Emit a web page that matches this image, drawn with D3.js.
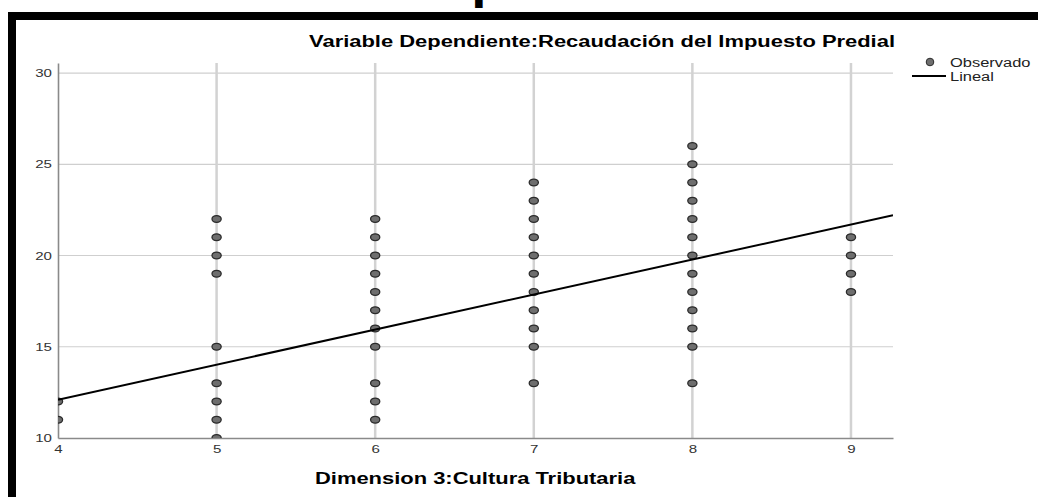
<!DOCTYPE html>
<html>
<head>
<meta charset="utf-8">
<script src="https://cdn.jsdelivr.net/npm/d3@7"></script>
<style>
  body { margin: 0; background: #fff; }
  text { font-family: "Liberation Sans", Arial, sans-serif; }
</style>
</head>
<body>
<div id="chart"></div>
<script>
// values: one list of y values per x column
var xCats = [4, 5, 6, 7, 8, 9];
var yByX = [
  [12, 11],
  [22, 21, 20, 19, 15, 13, 12, 11, 10],
  [22, 21, 20, 19, 18, 17, 16, 15, 13, 12, 11],
  [24, 23, 22, 21, 20, 19, 18, 17, 16, 15, 13],
  [26, 25, 24, 23, 22, 21, 20, 19, 18, 17, 16, 15, 13],
  [21, 20, 19, 18]
];
var fitLine = [4.42, 1.92];   // intercept, slope
var yTicks = [10, 15, 20, 25, 30];
var xTicks = [4, 5, 6, 7, 8, 9];

var W = 1038, H = 497;
var plot = { left: 58, right: 893, top: 63, bottom: 438 };
var stretch = 1.37;   // the source picture is widened sideways

var x = d3.scaleLinear().domain([4, 9.265]).range([plot.left, plot.right]);
var y = d3.scaleLinear().domain([10, 30.55]).range([plot.bottom, plot.top]);

var svg = d3.select('#chart')
  .append('svg')
    .attr('width', W)
    .attr('height', H);

// page heading, only its descender is left inside the picture
svg.append('text')
  .attr('x', 386)
  .attr('y', 0)
  .style('font-size', '40px')
  .style('font-weight', 'bold')
  .text('Dispersión');

// black frame
svg.append('rect')
  .attr('x', 12)
  .attr('y', 16)
  .attr('width', W + 20)
  .attr('height', H + 20)
  .style('fill', 'none')
  .style('stroke', '#000')
  .style('stroke-width', 8);

svg.append('defs')
  .append('clipPath')
    .attr('id', 'plotclip')
  .append('rect')
    .attr('x', plot.left)
    .attr('y', plot.top)
    .attr('width', plot.right - plot.left)
    .attr('height', plot.bottom - plot.top);

// grid
svg.append('g')
  .selectAll('line')
  .data(yTicks.slice(1))
  .enter().append('line')
    .attr('x1', plot.left)
    .attr('x2', plot.right)
    .attr('y1', function (d) { return y(d); })
    .attr('y2', function (d) { return y(d); })
    .style('stroke', '#cfcfcf')
    .style('stroke-width', 1.2);

svg.append('g')
  .selectAll('line')
  .data(xTicks.slice(1))
  .enter().append('line')
    .attr('x1', function (d) { return x(d); })
    .attr('x2', function (d) { return x(d); })
    .attr('y1', plot.top)
    .attr('y2', plot.bottom)
    .style('stroke', '#d2d2d2')
    .style('stroke-width', 2.5);

// axes
var yAxis = svg.append('g')
  .attr('transform', 'translate(' + plot.left + ',0)')
  .call(d3.axisLeft(y).tickValues(yTicks).tickFormat(d3.format('d')).tickSize(0).tickPadding(6));
var xAxis = svg.append('g')
  .attr('transform', 'translate(0,' + plot.bottom + ')')
  .call(d3.axisBottom(x).tickValues(xTicks).tickFormat(d3.format('d')).tickSize(0).tickPadding(7));

[yAxis, xAxis].forEach(function (ax) {
  ax.select('.domain').style('stroke', '#8a8a8a').style('stroke-width', 1.6);
  ax.selectAll('text')
    .style('font-family', '"Liberation Sans", Arial, sans-serif')
    .style('font-size', '11px')
    .style('fill', '#333');
});

// points and fit line
var pts = [];
xCats.forEach(function (xv, i) {
  yByX[i].forEach(function (yv) { pts.push({ x: xv, y: yv }); });
});

var inner = svg.append('g').attr('clip-path', 'url(#plotclip)');

inner.selectAll('ellipse')
  .data(pts)
  .enter().append('ellipse')
    .attr('cx', function (d) { return x(d.x); })
    .attr('cy', function (d) { return y(d.y); })
    .attr('rx', 4.6)
    .attr('ry', 3.4)
    .style('fill', '#6e6e6e')
    .style('stroke', '#2b2b2b')
    .style('stroke-width', 1.3);

inner.append('line')
  .attr('x1', x(4))
  .attr('y1', y(fitLine[0] + fitLine[1] * 4))
  .attr('x2', x(9.265))
  .attr('y2', y(fitLine[0] + fitLine[1] * 9.265))
  .style('stroke', '#000')
  .style('stroke-width', 2);

// titles
svg.append('text')
  .attr('x', plot.right + 2)
  .attr('y', 47)
  .attr('text-anchor', 'end')
  .style('font-size', '16px')
  .style('font-weight', 'bold')
  .text('Variable Dependiente:Recaudación del Impuesto Predial');

svg.append('text')
  .attr('x', 315)
  .attr('y', 484)
  .style('font-size', '16px')
  .style('font-weight', 'bold')
  .text('Dimension 3:Cultura Tributaria');

// legend
var lg = svg.append('g');
lg.append('circle')
  .attr('cx', 930)
  .attr('cy', 62)
  .attr('r', 3.8)
  .style('fill', '#6e6e6e')
  .style('stroke', '#2b2b2b')
  .style('stroke-width', 1);
lg.append('text')
  .attr('x', 950)
  .attr('y', 67)
  .style('font-size', '12px')
  .style('fill', '#222')
  .text('Observado');
lg.append('line')
  .attr('x1', 912)
  .attr('x2', 946)
  .attr('y1', 76)
  .attr('y2', 76)
  .style('stroke', '#000')
  .style('stroke-width', 2);
lg.append('text')
  .attr('x', 950)
  .attr('y', 81)
  .style('font-size', '12px')
  .style('fill', '#222')
  .text('Lineal');

// widen every text the same way the source is widened
svg.selectAll('text').each(function () {
  var len = this.getComputedTextLength();
  d3.select(this)
    .attr('textLength', len * stretch)
    .attr('lengthAdjust', 'spacingAndGlyphs');
});
</script>
</body>
</html>
